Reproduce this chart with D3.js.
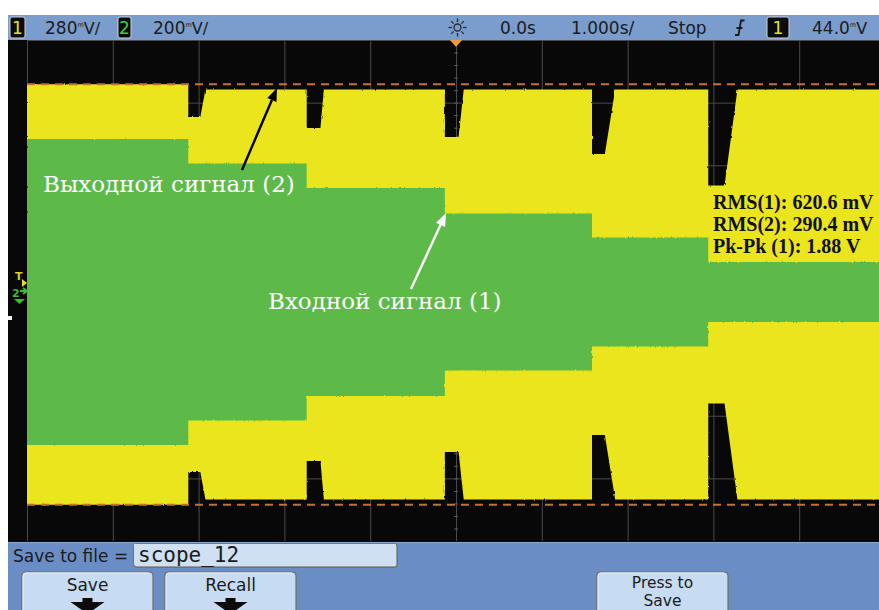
<!DOCTYPE html>
<html>
<head>
<meta charset="utf-8">
<script src="https://cdn.jsdelivr.net/npm/d3@7"></script>
<style>
  html, body { margin: 0; padding: 0; background: #fff; }
  svg { display: block; }
</style>
</head>
<body>
<svg id="scope" width="879" height="610"></svg>
<script>
// ---- Acquisition data -------------------------------------------------
// Horizontal: 1 s/div, trigger (0 s) at the centre of the screen
const timeDomain = [-5, 5];
// Boundaries of the stepped test signal, seconds
const stepTimes = [-5, -3.12, -1.74, -0.13, 1.585, 2.94, 5];
// Input signal, green trace (200 mV/div): half of peak-to-peak per step, V
const inputAmp = [0.489, 0.410, 0.332, 0.251, 0.174, 0.096];
// Output signal, yellow trace (280 mV/div): half of peak-to-peak per step, V
const outputAmp = [0.94, 0.917, 0.917, 0.917, 0.917, 0.917];
// Output dip right after each input step: lowest half-amplitude, V
const dipAmp = [0.794, 0.744, 0.704, 0.628, 0.487];
// How long each dip stays at its lowest and when it has recovered, s
const dipHold = [0.14, 0.16, 0.16, 0.15, 0.19];
const dipRecover = [0.20, 0.20, 0.22, 0.27, 0.34];
// Vertical settings: V/div and ground offset in divisions (ch1 yellow, ch2 green)
const channelScale = [0.28, 0.20];
const channelOffsetDiv = [-0.064, -0.024];
// Readouts
const pkpk1 = 1.88;
const measureLabels = ["RMS(1): 620.6 mV", "RMS(2): 290.4 mV", "Pk-Pk (1): " + pkpk1.toFixed(2) + " V"];
const statusTexts = ["0.0s", "1.000s/", "Stop"];
const fileName = "scope_12";
const softKeys = ["Save", "Recall"];

// ---- Layout -----------------------------------------------------------
const svg = d3.select("#scope");
const G = { left: 27, right: 885, top: 40, bottom: 541 };
const YELLOW = "#EAE51D", GREEN = "#5DBA49", BAR = "#7A9DCD", BAR2 = "#6B8DC5";
const UI_FONT = "'DejaVu Sans', sans-serif";

const x = d3.scaleLinear().domain(timeDomain).range([G.left, G.right]);
const yDiv = d3.scaleLinear().domain([-4, 4]).range([G.bottom, G.top]);
function chScale(k) {
  const s = channelScale[k], o = channelOffsetDiv[k];
  return d3.scaleLinear().domain([(-4 - o) * s, (4 - o) * s]).range([G.bottom, G.top]);
}
const y1 = chScale(0), y2 = chScale(1);

const defs = svg.append("defs");
defs.append("clipPath").attr("id", "plotClip")
  .append("rect").attr("x", G.left).attr("y", G.top)
  .attr("width", 879 - G.left).attr("height", G.bottom - G.top);
const rough = defs.append("filter").attr("id", "rough")
  .attr("x", "-2%").attr("y", "-2%").attr("width", "104%").attr("height", "104%");
rough.append("feTurbulence").attr("type", "fractalNoise")
  .attr("baseFrequency", "0.9 0.2").attr("numOctaves", 1).attr("seed", 4).attr("result", "n");
rough.append("feDisplacementMap").attr("in", "SourceGraphic").attr("in2", "n")
  .attr("scale", 2.5).attr("xChannelSelector", "R").attr("yChannelSelector", "G");

// screen background
svg.append("rect").attr("x", 8).attr("y", 40).attr("width", 871).attr("height", 503).attr("fill", "#080808");

// ---- Graticule --------------------------------------------------------
const grid = svg.append("g").attr("clip-path", "url(#plotClip)");
grid.append("g")
  .attr("transform", `translate(0,${G.bottom})`)
  .call(d3.axisBottom(x).tickValues(d3.range(-5, 6, 1)).tickSize(-(G.bottom - G.top)).tickFormat(""))
  .call(g => g.select(".domain").remove())
  .call(g => g.selectAll("line").attr("stroke", "#4a4a4a").attr("stroke-width", 1));
grid.append("g")
  .attr("transform", `translate(${G.left},0)`)
  .call(d3.axisLeft(yDiv).tickValues(d3.range(-4, 5, 1)).tickSize(-(G.right - G.left)).tickFormat(""))
  .call(g => g.select(".domain").remove())
  .call(g => g.selectAll("line").attr("stroke", "#4a4a4a").attr("stroke-width", 1));
// minor ticks on the centre axes
grid.append("g").attr("transform", `translate(0,${yDiv(0) + 2})`)
  .call(d3.axisBottom(x).tickValues(d3.range(-5, 5.01, 0.2)).tickSize(-4).tickFormat(""))
  .call(g => g.select(".domain").remove())
  .call(g => g.selectAll("line").attr("stroke", "#5a5a5a"));
grid.append("g").attr("transform", `translate(${x(0) - 2},0)`)
  .call(d3.axisRight(yDiv).tickValues(d3.range(-4, 4.01, 0.2)).tickSize(4).tickFormat(""))
  .call(g => g.select(".domain").remove())
  .call(g => g.selectAll("line").attr("stroke", "#5a5a5a"));

// ---- Traces -----------------------------------------------------------
const outPts = [[stepTimes[0], outputAmp[0]]];
outputAmp.forEach((a, i) => {
  if (i > 0) {
    const t0 = stepTimes[i];
    outPts.push([t0, dipAmp[i - 1]]);
    outPts.push([t0 + dipHold[i - 1], dipAmp[i - 1]]);
    outPts.push([t0 + dipRecover[i - 1], a]);
  }
  outPts.push([stepTimes[i + 1], a]);
});
const inPts = inputAmp.map((a, i) => [stepTimes[i], a]).concat([[stepTimes[stepTimes.length - 1], inputAmp[inputAmp.length - 1]]]);

const traces = svg.append("g").attr("clip-path", "url(#plotClip)");
traces.append("path")
  .attr("d", d3.area().x(d => x(d[0])).y0(d => y1(-d[1])).y1(d => y1(d[1]))(outPts))
  .attr("fill", YELLOW).attr("filter", "url(#rough)");
traces.append("path")
  .attr("d", d3.area().curve(d3.curveStepAfter).x(d => x(d[0])).y0(d => y2(-d[1])).y1(d => y2(d[1]))(inPts))
  .attr("fill", GREEN).attr("filter", "url(#rough)");

// Pk-Pk markers
traces.selectAll(".mk").data([pkpk1 / 2, -pkpk1 / 2]).enter().append("line")
  .attr("x1", G.left).attr("x2", 879).attr("y1", d => y1(d)).attr("y2", d => y1(d))
  .attr("stroke", "#C8702F").attr("stroke-width", 2).attr("stroke-dasharray", "8,6");

// ---- Annotations ------------------------------------------------------
function arrow(x0, yA, x1, yB, color) {
  const ang = Math.atan2(yB - yA, x1 - x0), L = 13, W = 5;
  const bx = x1 - L * Math.cos(ang), by = yB - L * Math.sin(ang);
  svg.append("line").attr("x1", x0).attr("y1", yA).attr("x2", bx).attr("y2", by)
    .attr("stroke", color).attr("stroke-width", 2.4);
  svg.append("path").attr("fill", color)
    .attr("d", `M${x1},${yB}L${bx + W * Math.sin(ang)},${by - W * Math.cos(ang)}L${bx - W * Math.sin(ang)},${by + W * Math.cos(ang)}Z`);
}
arrow(242, 170, 277, 88, "#000");
arrow(411, 289, 446, 213, "#fff");

svg.append("text").attr("x", 43).attr("y", 192).text("Выходной сигнал (2)")
  .attr("font-family", "'DejaVu Serif', serif").attr("font-size", 23).attr("fill", "#fff");
svg.append("text").attr("x", 268).attr("y", 309).text("Входной сигнал (1)")
  .attr("font-family", "'DejaVu Serif', serif").attr("font-size", 23).attr("fill", "#fff");

svg.append("g").selectAll("text").data(measureLabels).enter().append("text")
  .attr("x", 713).attr("y", (d, i) => 209 + i * 22).text(d => d)
  .attr("font-family", "'Liberation Serif', 'Times New Roman', serif")
  .attr("font-weight", "bold").attr("font-size", 20).attr("fill", "#111");

// ---- Left side markers ------------------------------------------------
svg.append("rect").attr("x", 8).attr("y", 316).attr("width", 4).attr("height", 4).attr("fill", "#f2f2f2");
svg.append("text").attr("x", 15).attr("y", 280).text("T").attr("font-family", UI_FONT)
  .attr("font-size", 11).attr("font-weight", "bold").attr("fill", "#D8CF20");
svg.append("path").attr("d", "M22,279L27,283L22,287Z").attr("fill", "#E4DC1E");
svg.append("text").attr("x", 12).attr("y", 297).text("2").attr("font-family", UI_FONT)
  .attr("font-size", 11).attr("font-weight", "bold").attr("fill", "#3DBA3A");
svg.append("path").attr("d", "M20,291L27,291M23,288L27,291L23,294").attr("stroke", "#3DBA3A").attr("stroke-width", 2).attr("fill", "none");
svg.append("path").attr("d", "M14,299L25,299L19.5,304Z").attr("fill", "#3DBA3A");

// ---- Top status bar ---------------------------------------------------
svg.append("rect").attr("x", 8).attr("y", 15).attr("width", 871).attr("height", 25).attr("fill", BAR);
function badge(bx, w, label, color) {
  svg.append("rect").attr("x", bx).attr("y", 17).attr("width", w).attr("height", 21).attr("rx", 2)
    .attr("fill", "#0b0b0b").attr("stroke", "#d0d0d0").attr("stroke-width", 1);
  svg.append("text").attr("x", bx + w / 2).attr("y", 34).attr("text-anchor", "middle").text(label)
    .attr("font-family", UI_FONT).attr("font-size", 17).attr("fill", color);
}
badge(10, 15, "1", "#E8E21D");
badge(118, 13, "2", "#3ECF3E");
badge(767, 22, "1", "#E8E21D");

// value with the compact "mV" unit: a small raised m right before the V
function mvText(tx, num, tail) {
  const t = svg.append("text").attr("x", tx).attr("y", 34)
    .attr("font-family", UI_FONT).attr("font-size", 16).attr("fill", "#1b1b1b");
  t.append("tspan").attr("font-size", 17).text(num);
  t.append("tspan").attr("font-size", 6.5).attr("dy", -7).text("m");
  t.append("tspan").attr("font-size", 16).attr("dy", 7).text("V" + tail);
}
mvText(45, "280", "/");
mvText(153, "200", "/");
mvText(812, "44.0", "");

[[500, statusTexts[0]], [571, statusTexts[1]], [668, statusTexts[2]]].forEach(([tx, s]) => {
  svg.append("text").attr("x", tx).attr("y", 34).text(s)
    .attr("font-family", UI_FONT).attr("font-size", 17).attr("fill", "#1b1b1b");
});
// acquisition (sun) icon
const sun = svg.append("g").attr("transform", "translate(457.5,27.5)").attr("stroke", "#2a2a2a").attr("stroke-width", 1.3).attr("fill", "none");
sun.append("circle").attr("r", 3.5);
d3.range(8).forEach(k => {
  const a = k * Math.PI / 4;
  sun.append("line").attr("x1", 5.5 * Math.cos(a)).attr("y1", 5.5 * Math.sin(a))
    .attr("x2", 9 * Math.cos(a)).attr("y2", 9 * Math.sin(a));
});
// rising-edge trigger icon
svg.append("path").attr("d", "M735,35L738.5,35L741,20.5L744.5,20.5M736.5,28L742.5,28")
  .attr("stroke", "#1b1b1b").attr("stroke-width", 1.8).attr("fill", "none");
// trigger position marker
svg.append("path").attr("d", `M${x(0) - 6},40L${x(0) + 6},40L${x(0)},47Z`).attr("fill", "#F29A2E");

// ---- Bottom softkey bar -----------------------------------------------
svg.append("rect").attr("x", 8).attr("y", 542).attr("width", 871).attr("height", 68).attr("fill", BAR2);
svg.append("line").attr("x1", 8).attr("x2", 879).attr("y1", 542.5).attr("y2", 542.5).attr("stroke", "#8fa9d3");
svg.append("text").attr("x", 13).attr("y", 562).text("Save to file =")
  .attr("font-family", UI_FONT).attr("font-size", 17).attr("fill", "#1b1b1b");
svg.append("rect").attr("x", 134).attr("y", 544).attr("width", 263).attr("height", 23).attr("rx", 2)
  .attr("fill", "#CFE0F3").attr("stroke", "#5d5d4a").attr("stroke-width", 1);
svg.append("rect").attr("x", 134).attr("y", 544).attr("width", 262).attr("height", 21).attr("fill", "#CFE0F3");
svg.append("text").attr("x", 138).attr("y", 562).text(fileName)
  .attr("font-family", "'DejaVu Sans Mono', monospace").attr("font-size", 21).attr("fill", "#1b1b1b");

function softKey(bx, lines, withArrow) {
  const w = 131, cx = bx + w / 2;
  svg.append("path").attr("d", `M${bx},612L${bx},576Q${bx},572 ${bx + 4},572L${bx + w - 4},572Q${bx + w},572 ${bx + w},576L${bx + w},612Z`)
    .attr("fill", "#C7DBF2").attr("stroke", "#6e6e5e").attr("stroke-width", 1.2);
  svg.append("path").attr("d", `M${bx + 1},612L${bx + 1},576Q${bx + 1},573 ${bx + 4},573L${bx + w - 4},573`)
    .attr("fill", "none").attr("stroke", "#e8f0fa").attr("stroke-width", 1);
  lines.forEach((s, i) => {
    svg.append("text").attr("x", cx).attr("y", lines.length > 1 ? 587.5 + i * 18 : 591)
      .attr("text-anchor", "middle").text(s)
      .attr("font-family", UI_FONT).attr("font-size", lines.length > 1 ? 15.5 : 17).attr("fill", "#1b1b1b");
  });
  if (withArrow) {
    svg.append("path").attr("fill", "#0b0b0b")
      .attr("d", `M${cx - 5},598L${cx + 5},598L${cx + 5},602L${cx + 17},602L${cx},614L${cx - 17},602L${cx - 5},602Z`);
  }
}
softKey(22, [softKeys[0]], true);
softKey(165, [softKeys[1]], true);
softKey(597, ["Press to", "Save"], false);
</script>
</body>
</html>
